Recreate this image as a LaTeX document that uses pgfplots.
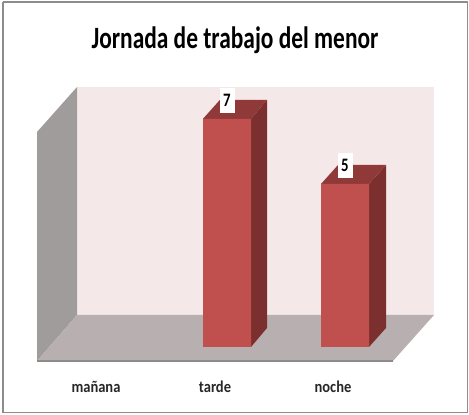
\documentclass[border=0pt]{standalone}
\usepackage{fontspec}
\setmainfont{Carlito}
\usepackage{graphicx}
\usepackage{pgfplots}
\pgfplotsset{compat=1.18}
\definecolor{frontc}{HTML}{C0504D}
\definecolor{sidec}{HTML}{7B2F2E}
\definecolor{topc}{HTML}{8F3A38}
\definecolor{wallc}{HTML}{F5E8E8}
\definecolor{leftc}{HTML}{A09C9C}
\definecolor{floorc}{HTML}{B8B0B0}
\definecolor{framec}{HTML}{8C8C8C}
\begin{document}
\begin{tikzpicture}
\begin{axis}[
  at={(0,0)}, anchor=south west,
  scale only axis, width=469pt, height=415pt,
  xmin=0, xmax=469, ymin=-2.086, ymax=10.644,
  axis x line=bottom, axis y line=none,
  axis line style={draw=none},
  major tick length=0pt,
  xtick={96,215,333},
  xticklabels={\scalebox{0.88}[1]{mañana},\scalebox{0.88}[1]{tarde},\scalebox{0.88}[1]{noche}},
  xticklabel style={font=\bfseries\fontsize{16.5}{18}\selectfont, text=black!85, anchor=center, yshift=28pt},
  clip=false,
]
% outer frame
\addplot[draw=framec, line width=1.2pt] coordinates {(3,10.58) (467.5,10.58) (467.5,-2.02) (3,-2.02) (3,10.58)};
% walls and floor
\addplot[draw=none, fill=wallc] coordinates {(77,7.975) (434,7.975) (434,0.982) (77,0.982)} -- cycle;
\addplot[draw=none, fill=leftc] coordinates {(37,6.595) (77,7.975) (77,0.982) (37,-0.429)} -- cycle;
\addplot[draw=none, fill=floorc] coordinates {(37,-0.429) (77,0.982) (434,0.982) (393,-0.429)} -- cycle;
\addplot[draw=framec, line width=1.2pt] coordinates {(37,-0.429) (393,-0.429)};
% bar side and top faces
\addplot[draw=none, fill=sidec] coordinates {(251,7) (267,7.583) (267,0.583) (251,0)} -- cycle;
\addplot[draw=none, fill=topc] coordinates {(203,7) (220,7.583) (267,7.583) (251,7)} -- cycle;
\addplot[draw=none, fill=sidec] coordinates {(369,5) (386,5.583) (386,0.583) (369,0)} -- cycle;
\addplot[draw=none, fill=topc] coordinates {(321,5) (338,5.583) (386,5.583) (369,5)} -- cycle;
% bar fronts
\addplot[ybar, bar width=48pt, bar shift=0pt, draw=none, fill=frontc,
  point meta=explicit symbolic,
  nodes near coords={\scalebox{0.78}[1]{\pgfplotspointmeta}},
  every node near coord/.append style={fill=white, text=black, inner sep=0pt,
    minimum width=15pt, minimum height=25pt, anchor=south, yshift=6pt,
    font=\bfseries\fontsize{19}{20}\selectfont},
] coordinates {(227,7) [7] (345,5) [5]};
% title
\node[font=\bfseries\fontsize{31}{33}\selectfont, text=black, anchor=center] at (axis cs:235,9.42) {\scalebox{0.755}[1]{Jornada de trabajo del menor}};
\end{axis}
\pgfresetboundingbox
\path (0,0) rectangle (469pt,415pt);
\end{tikzpicture}
\end{document}
